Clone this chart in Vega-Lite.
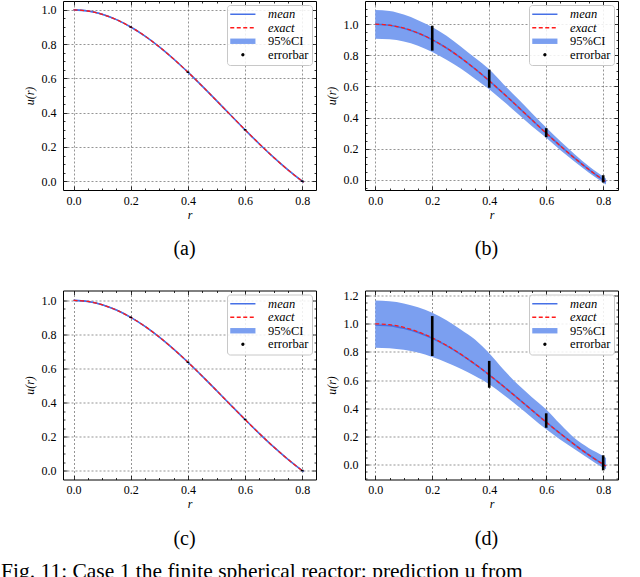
{
  "$schema": "https://vega.github.io/schema/vega-lite/v6.json",
  "padding": {"left": 1, "top": 0, "right": 0, "bottom": 0},
  "background": "white",
  "datasets": {
    "curves": [
      {"panel":"a","r":0,"mean":1.0,"exact":1.0,"lo":0.996,"hi":1.004},
      {"panel":"a","r":0.05,"mean":0.9936,"exact":0.9936,"lo":0.9896,"hi":0.9976},
      {"panel":"a","r":0.1,"mean":0.9745,"exact":0.9745,"lo":0.9705,"hi":0.9785},
      {"panel":"a","r":0.15,"mean":0.9432,"exact":0.9432,"lo":0.9392,"hi":0.9472},
      {"panel":"a","r":0.2,"mean":0.9003,"exact":0.9003,"lo":0.8963,"hi":0.9043},
      {"panel":"a","r":0.25,"mean":0.8469,"exact":0.8469,"lo":0.8429,"hi":0.8509},
      {"panel":"a","r":0.3,"mean":0.7842,"exact":0.7842,"lo":0.7802,"hi":0.7882},
      {"panel":"a","r":0.35,"mean":0.7136,"exact":0.7136,"lo":0.7096,"hi":0.7176},
      {"panel":"a","r":0.4,"mean":0.6366,"exact":0.6366,"lo":0.6326,"hi":0.6406},
      {"panel":"a","r":0.45,"mean":0.555,"exact":0.555,"lo":0.551,"hi":0.559},
      {"panel":"a","r":0.5,"mean":0.4705,"exact":0.4705,"lo":0.4665,"hi":0.4745},
      {"panel":"a","r":0.55,"mean":0.385,"exact":0.385,"lo":0.381,"hi":0.389},
      {"panel":"a","r":0.6,"mean":0.3001,"exact":0.3001,"lo":0.2961,"hi":0.3041},
      {"panel":"a","r":0.65,"mean":0.2177,"exact":0.2177,"lo":0.2137,"hi":0.2217},
      {"panel":"a","r":0.7,"mean":0.1392,"exact":0.1392,"lo":0.1352,"hi":0.1432},
      {"panel":"a","r":0.75,"mean":0.0662,"exact":0.0662,"lo":0.0622,"hi":0.0702},
      {"panel":"a","r":0.8,"mean":0.0,"exact":0.0,"lo":-0.004,"hi":0.004},
      {"panel":"a","r":0.805,"mean":-0.0062,"exact":-0.0062,"lo":-0.0102,"hi":-0.0022},

      {"panel":"b","r":0,"mean":1.0,"exact":1.0,"lo":0.907,"hi":1.091},
      {"panel":"b","r":0.05,"mean":0.9936,"exact":0.9936,"lo":0.903,"hi":1.085},
      {"panel":"b","r":0.1,"mean":0.9745,"exact":0.9745,"lo":0.889,"hi":1.062},
      {"panel":"b","r":0.15,"mean":0.9432,"exact":0.9432,"lo":0.862,"hi":1.026},
      {"panel":"b","r":0.2,"mean":0.9003,"exact":0.9003,"lo":0.822,"hi":0.982},
      {"panel":"b","r":0.25,"mean":0.8469,"exact":0.8469,"lo":0.772,"hi":0.925},
      {"panel":"b","r":0.3,"mean":0.7842,"exact":0.7842,"lo":0.715,"hi":0.857},
      {"panel":"b","r":0.35,"mean":0.7136,"exact":0.7136,"lo":0.65,"hi":0.784},
      {"panel":"b","r":0.4,"mean":0.6366,"exact":0.6366,"lo":0.582,"hi":0.71},
      {"panel":"b","r":0.45,"mean":0.555,"exact":0.555,"lo":0.505,"hi":0.615},
      {"panel":"b","r":0.5,"mean":0.4705,"exact":0.4705,"lo":0.425,"hi":0.522},
      {"panel":"b","r":0.55,"mean":0.385,"exact":0.385,"lo":0.345,"hi":0.428},
      {"panel":"b","r":0.6,"mean":0.3001,"exact":0.3001,"lo":0.27,"hi":0.337},
      {"panel":"b","r":0.65,"mean":0.2177,"exact":0.2177,"lo":0.19,"hi":0.248},
      {"panel":"b","r":0.7,"mean":0.1392,"exact":0.1392,"lo":0.117,"hi":0.165},
      {"panel":"b","r":0.75,"mean":0.0662,"exact":0.0662,"lo":0.046,"hi":0.088},
      {"panel":"b","r":0.8,"mean":0.0,"exact":0.0,"lo":-0.018,"hi":0.022},
      {"panel":"b","r":0.81,"mean":-0.0123,"exact":-0.0123,"lo":-0.03,"hi":0.008},

      {"panel":"c","r":0,"mean":1.0,"exact":1.0,"lo":0.996,"hi":1.004},
      {"panel":"c","r":0.05,"mean":0.9936,"exact":0.9936,"lo":0.9896,"hi":0.9976},
      {"panel":"c","r":0.1,"mean":0.9745,"exact":0.9745,"lo":0.9705,"hi":0.9785},
      {"panel":"c","r":0.15,"mean":0.9432,"exact":0.9432,"lo":0.9392,"hi":0.9472},
      {"panel":"c","r":0.2,"mean":0.9003,"exact":0.9003,"lo":0.8963,"hi":0.9043},
      {"panel":"c","r":0.25,"mean":0.8469,"exact":0.8469,"lo":0.8429,"hi":0.8509},
      {"panel":"c","r":0.3,"mean":0.7842,"exact":0.7842,"lo":0.7802,"hi":0.7882},
      {"panel":"c","r":0.35,"mean":0.7136,"exact":0.7136,"lo":0.7096,"hi":0.7176},
      {"panel":"c","r":0.4,"mean":0.6366,"exact":0.6366,"lo":0.6326,"hi":0.6406},
      {"panel":"c","r":0.45,"mean":0.555,"exact":0.555,"lo":0.551,"hi":0.559},
      {"panel":"c","r":0.5,"mean":0.4705,"exact":0.4705,"lo":0.4665,"hi":0.4745},
      {"panel":"c","r":0.55,"mean":0.385,"exact":0.385,"lo":0.381,"hi":0.389},
      {"panel":"c","r":0.6,"mean":0.3001,"exact":0.3001,"lo":0.2961,"hi":0.3041},
      {"panel":"c","r":0.65,"mean":0.2177,"exact":0.2177,"lo":0.2137,"hi":0.2217},
      {"panel":"c","r":0.7,"mean":0.1392,"exact":0.1392,"lo":0.1352,"hi":0.1432},
      {"panel":"c","r":0.75,"mean":0.0662,"exact":0.0662,"lo":0.0622,"hi":0.0702},
      {"panel":"c","r":0.8,"mean":0.0,"exact":0.0,"lo":-0.004,"hi":0.004},
      {"panel":"c","r":0.805,"mean":-0.0062,"exact":-0.0062,"lo":-0.0102,"hi":-0.0022},

      {"panel":"d","r":0,"mean":0.992,"exact":1.0,"lo":0.83,"hi":1.165},
      {"panel":"d","r":0.05,"mean":0.987,"exact":0.9936,"lo":0.826,"hi":1.16},
      {"panel":"d","r":0.1,"mean":0.968,"exact":0.9745,"lo":0.815,"hi":1.145},
      {"panel":"d","r":0.15,"mean":0.939,"exact":0.9432,"lo":0.795,"hi":1.118},
      {"panel":"d","r":0.2,"mean":0.897,"exact":0.9003,"lo":0.764,"hi":1.079},
      {"panel":"d","r":0.25,"mean":0.845,"exact":0.8469,"lo":0.725,"hi":1.025},
      {"panel":"d","r":0.3,"mean":0.783,"exact":0.7842,"lo":0.68,"hi":0.96},
      {"panel":"d","r":0.35,"mean":0.713,"exact":0.7136,"lo":0.628,"hi":0.888},
      {"panel":"d","r":0.4,"mean":0.637,"exact":0.6366,"lo":0.57,"hi":0.79},
      {"panel":"d","r":0.45,"mean":0.555,"exact":0.555,"lo":0.495,"hi":0.675},
      {"panel":"d","r":0.5,"mean":0.4705,"exact":0.4705,"lo":0.415,"hi":0.569},
      {"panel":"d","r":0.55,"mean":0.385,"exact":0.385,"lo":0.332,"hi":0.478},
      {"panel":"d","r":0.6,"mean":0.3001,"exact":0.3001,"lo":0.249,"hi":0.391},
      {"panel":"d","r":0.65,"mean":0.2177,"exact":0.2177,"lo":0.175,"hi":0.285},
      {"panel":"d","r":0.7,"mean":0.1392,"exact":0.1392,"lo":0.107,"hi":0.185},
      {"panel":"d","r":0.75,"mean":0.0662,"exact":0.0662,"lo":0.04,"hi":0.115},
      {"panel":"d","r":0.8,"mean":0.0,"exact":0.0,"lo":-0.024,"hi":0.059},
      {"panel":"d","r":0.81,"mean":-0.0123,"exact":-0.0123,"lo":-0.035,"hi":0.045}
    ],
    "bars": [
      {"panel":"a","r":0.2,"lo":0.896,"hi":0.904},
      {"panel":"a","r":0.4,"lo":0.632,"hi":0.641},
      {"panel":"a","r":0.6,"lo":0.296,"hi":0.305},
      {"panel":"a","r":0.8,"lo":-0.004,"hi":0.005},
      {"panel":"b","r":0.2,"lo":0.83,"hi":0.99},
      {"panel":"b","r":0.4,"lo":0.592,"hi":0.708},
      {"panel":"b","r":0.6,"lo":0.274,"hi":0.332},
      {"panel":"b","r":0.8,"lo":-0.017,"hi":0.03},
      {"panel":"c","r":0.2,"lo":0.896,"hi":0.904},
      {"panel":"c","r":0.4,"lo":0.632,"hi":0.641},
      {"panel":"c","r":0.6,"lo":0.296,"hi":0.305},
      {"panel":"c","r":0.8,"lo":-0.004,"hi":0.005},
      {"panel":"d","r":0.2,"lo":0.771,"hi":1.055},
      {"panel":"d","r":0.4,"lo":0.545,"hi":0.736},
      {"panel":"d","r":0.6,"lo":0.26,"hi":0.363},
      {"panel":"d","r":0.8,"lo":-0.043,"hi":0.064}
    ]
  },
  "title": {"text": "Fig. 11: Case 1 the finite spherical reactor: prediction u from", "orient": "bottom", "anchor": "start", "frame": "group", "dx": -62, "offset": 12, "fontSize": 21.5, "font": "Liberation Serif", "fontWeight": "normal", "color": "black"},
  "columns": 2,
  "spacing": {"row": 100.5, "column": 49},
  "bounds": "flush",
  "resolve": {"scale": {"color": "independent"}, "legend": {"color": "independent"}},
  "concat": [
    {
      "width": 253, "height": 189,
      "title": {"text": "(a)", "orient": "bottom", "offset": 19, "dx": -5},
      "resolve": {"axis": {"x": "independent", "y": "independent"}},
      "layer": [
        {
          "data": {"name": "curves"}, "transform": [{"filter": "datum.panel == 'a'"}],
          "mark": {"type": "area", "interpolate": "monotone"},
          "encoding": {
            "x": {"field": "r", "type": "quantitative", "scale": {"domain": [-0.037, 0.848], "nice": false, "zero": false},
                  "axis": {"orient": "bottom", "values": [0,0.2,0.4,0.6,0.8], "format": ".1f", "grid": true, "tickSize": -4, "labelPadding": 9, "labelOverlap": false, "labelFlush": false, "title": "r", "titlePadding": 3}},
            "y": {"field": "lo", "type": "quantitative", "scale": {"domain": [-0.051, 1.052], "nice": false, "zero": false},
                  "axis": {"orient": "left", "values": [0,0.2,0.4,0.6,0.8,1.0], "format": ".1f", "grid": true, "tickSize": -4, "labelPadding": 11, "labelOverlap": false, "labelFlush": false, "title": "u(r)", "titlePadding": 5}},
            "y2": {"field": "hi"},
            "color": {"datum": "95%CI", "scale": {"domain": ["mean","exact","95%CI","errorbar"], "range": ["#4670e6","#ff1a1a","#7b9ff0","#000000"]},
              "legend": {"title": null, "orient": "top-right", "offset": 4, "padding": 3, "strokeColor": "#c8c8c8", "fillColor": "rgba(255,255,255,0.85)", "cornerRadius": 3, "labelFont": "Liberation Serif", "labelFontSize": 12.5, "labelColor": "black",
                "labelFontStyle": {"expr": "datum.value == 'mean' || datum.value == 'exact' ? 'italic' : 'normal'"},
                "symbolSize": 144, "symbolOffset": 6.6, "labelOffset": 19, "rowPadding": 0.5, "symbolOpacity": 1,
                "symbolType": {"expr": "datum.value == '95%CI' ? 'M-2.1,-0.45H2.1V0.45H-2.1Z' : datum.value == 'errorbar' ? 'M-0.15,0A0.15,0.15,0,1,0,0.15,0A0.15,0.15,0,1,0,-0.15,0' : 'M-2.1,0H2.1'"},
                "symbolDash": {"expr": "datum.value == 'exact' ? [4,2.5] : [1,0]"},
                "symbolStrokeWidth": {"expr": "datum.value == '95%CI' ? 0 : 1.5"},
                "symbolFillColor": {"expr": "datum.value == '95%CI' ? '#7b9ff0' : datum.value == 'errorbar' ? 'black' : 'transparent'"},
                "symbolStrokeColor": {"expr": "datum.value == 'mean' ? '#4670e6' : datum.value == 'exact' ? '#ff1a1a' : datum.value == 'errorbar' ? 'black' : 'transparent'"}}}
          }
        },
        {
          "data": {"name": "curves"}, "transform": [{"filter": "datum.panel == 'a'"}],
          "mark": {"type": "line", "interpolate": "monotone", "strokeWidth": 1.6},
          "encoding": {
            "x": {"field": "r", "type": "quantitative", "axis": {"orient": "top", "values": [0,0.2,0.4,0.6,0.8], "labels": false, "grid": false, "tickSize": -4, "title": null}},
            "y": {"field": "mean", "type": "quantitative", "axis": {"orient": "right", "values": [0,0.2,0.4,0.6,0.8,1.0], "labels": false, "grid": false, "tickSize": -4, "title": null}},
            "color": {"datum": "mean"}
          }
        },
        {
          "data": {"name": "curves"}, "transform": [{"filter": "datum.panel == 'a'"}],
          "mark": {"type": "line", "interpolate": "monotone", "strokeWidth": 1.3, "strokeDash": [4, 2.5]},
          "encoding": {
            "x": {"field": "r", "type": "quantitative", "axis": {"orient": "bottom", "values": [0.05,0.1,0.15,0.25,0.3,0.35,0.45,0.5,0.55,0.65,0.7,0.75], "labels": false, "grid": false, "tickSize": -2, "title": null}},
            "y": {"field": "exact", "type": "quantitative", "axis": {"orient": "left", "values": [0.05,0.1,0.15,0.25,0.3,0.35,0.45,0.5,0.55,0.65,0.7,0.75,0.85,0.9,0.95], "labels": false, "grid": false, "tickSize": -2, "title": null}},
            "color": {"datum": "exact"}
          }
        },
        {
          "data": {"name": "bars"}, "transform": [{"filter": "datum.panel == 'a'"}],
          "mark": {"type": "rule", "strokeWidth": 2.6},
          "encoding": {
            "x": {"field": "r", "type": "quantitative", "axis": {"orient": "top", "values": [0.05,0.1,0.15,0.25,0.3,0.35,0.45,0.5,0.55,0.65,0.7,0.75], "labels": false, "grid": false, "tickSize": -2, "title": null}},
            "y": {"field": "lo", "type": "quantitative", "axis": {"orient": "right", "values": [0.05,0.1,0.15,0.25,0.3,0.35,0.45,0.5,0.55,0.65,0.7,0.75,0.85,0.9,0.95], "labels": false, "grid": false, "tickSize": -2, "title": null}},
            "y2": {"field": "hi"},
            "color": {"datum": "errorbar"}
          }
        }
      ]
    },
    {
      "width": 253, "height": 189,
      "title": {"text": "(b)", "orient": "bottom", "offset": 19, "dx": -5},
      "resolve": {"axis": {"x": "independent", "y": "independent"}},
      "layer": [
        {
          "data": {"name": "curves"}, "transform": [{"filter": "datum.panel == 'b'"}],
          "mark": {"type": "area", "interpolate": "monotone"},
          "encoding": {
            "x": {"field": "r", "type": "quantitative", "scale": {"domain": [-0.036, 0.852], "nice": false, "zero": false},
                  "axis": {"orient": "bottom", "values": [0,0.2,0.4,0.6,0.8], "format": ".1f", "grid": true, "tickSize": -4, "labelPadding": 9, "labelOverlap": false, "labelFlush": false, "title": "r", "titlePadding": 3}},
            "y": {"field": "lo", "type": "quantitative", "scale": {"domain": [-0.065, 1.149], "nice": false, "zero": false},
                  "axis": {"orient": "left", "values": [0,0.2,0.4,0.6,0.8,1.0], "format": ".1f", "grid": true, "tickSize": -4, "labelPadding": 11, "labelOverlap": false, "labelFlush": false, "title": "u(r)", "titlePadding": 5}},
            "y2": {"field": "hi"},
            "color": {"datum": "95%CI", "scale": {"domain": ["mean","exact","95%CI","errorbar"], "range": ["#4670e6","#ff1a1a","#7b9ff0","#000000"]},
              "legend": {"title": null, "orient": "top-right", "offset": 4, "padding": 3, "strokeColor": "#c8c8c8", "fillColor": "rgba(255,255,255,0.85)", "cornerRadius": 3, "labelFont": "Liberation Serif", "labelFontSize": 12.5, "labelColor": "black",
                "labelFontStyle": {"expr": "datum.value == 'mean' || datum.value == 'exact' ? 'italic' : 'normal'"},
                "symbolSize": 144, "symbolOffset": 6.6, "labelOffset": 19, "rowPadding": 0.5, "symbolOpacity": 1,
                "symbolType": {"expr": "datum.value == '95%CI' ? 'M-2.1,-0.45H2.1V0.45H-2.1Z' : datum.value == 'errorbar' ? 'M-0.15,0A0.15,0.15,0,1,0,0.15,0A0.15,0.15,0,1,0,-0.15,0' : 'M-2.1,0H2.1'"},
                "symbolDash": {"expr": "datum.value == 'exact' ? [4,2.5] : [1,0]"},
                "symbolStrokeWidth": {"expr": "datum.value == '95%CI' ? 0 : 1.5"},
                "symbolFillColor": {"expr": "datum.value == '95%CI' ? '#7b9ff0' : datum.value == 'errorbar' ? 'black' : 'transparent'"},
                "symbolStrokeColor": {"expr": "datum.value == 'mean' ? '#4670e6' : datum.value == 'exact' ? '#ff1a1a' : datum.value == 'errorbar' ? 'black' : 'transparent'"}}}
          }
        },
        {
          "data": {"name": "curves"}, "transform": [{"filter": "datum.panel == 'b'"}],
          "mark": {"type": "line", "interpolate": "monotone", "strokeWidth": 1.6},
          "encoding": {
            "x": {"field": "r", "type": "quantitative", "axis": {"orient": "top", "values": [0,0.2,0.4,0.6,0.8], "labels": false, "grid": false, "tickSize": -4, "title": null}},
            "y": {"field": "mean", "type": "quantitative", "axis": {"orient": "right", "values": [0,0.2,0.4,0.6,0.8,1.0], "labels": false, "grid": false, "tickSize": -4, "title": null}},
            "color": {"datum": "mean"}
          }
        },
        {
          "data": {"name": "curves"}, "transform": [{"filter": "datum.panel == 'b'"}],
          "mark": {"type": "line", "interpolate": "monotone", "strokeWidth": 1.3, "strokeDash": [4, 2.5]},
          "encoding": {
            "x": {"field": "r", "type": "quantitative", "axis": {"orient": "bottom", "values": [0.05,0.1,0.15,0.25,0.3,0.35,0.45,0.5,0.55,0.65,0.7,0.75], "labels": false, "grid": false, "tickSize": -2, "title": null}},
            "y": {"field": "exact", "type": "quantitative", "axis": {"orient": "left", "values": [-0.05,0.05,0.1,0.15,0.25,0.3,0.35,0.45,0.5,0.55,0.65,0.7,0.75,0.85,0.9,0.95,1.05,1.1], "labels": false, "grid": false, "tickSize": -2, "title": null}},
            "color": {"datum": "exact"}
          }
        },
        {
          "data": {"name": "bars"}, "transform": [{"filter": "datum.panel == 'b'"}],
          "mark": {"type": "rule", "strokeWidth": 2.6},
          "encoding": {
            "x": {"field": "r", "type": "quantitative", "axis": {"orient": "top", "values": [0.05,0.1,0.15,0.25,0.3,0.35,0.45,0.5,0.55,0.65,0.7,0.75], "labels": false, "grid": false, "tickSize": -2, "title": null}},
            "y": {"field": "lo", "type": "quantitative", "axis": {"orient": "right", "values": [-0.05,0.05,0.1,0.15,0.25,0.3,0.35,0.45,0.5,0.55,0.65,0.7,0.75,0.85,0.9,0.95,1.05,1.1], "labels": false, "grid": false, "tickSize": -2, "title": null}},
            "y2": {"field": "hi"},
            "color": {"datum": "errorbar"}
          }
        }
      ]
    },
    {
      "width": 253, "height": 189,
      "title": {"text": "(c)", "orient": "bottom", "offset": 19, "dx": -5},
      "resolve": {"axis": {"x": "independent", "y": "independent"}},
      "layer": [
        {
          "data": {"name": "curves"}, "transform": [{"filter": "datum.panel == 'c'"}],
          "mark": {"type": "area", "interpolate": "monotone"},
          "encoding": {
            "x": {"field": "r", "type": "quantitative", "scale": {"domain": [-0.037, 0.848], "nice": false, "zero": false},
                  "axis": {"orient": "bottom", "values": [0,0.2,0.4,0.6,0.8], "format": ".1f", "grid": true, "tickSize": -4, "labelPadding": 9, "labelOverlap": false, "labelFlush": false, "title": "r", "titlePadding": 3}},
            "y": {"field": "lo", "type": "quantitative", "scale": {"domain": [-0.052, 1.058], "nice": false, "zero": false},
                  "axis": {"orient": "left", "values": [0,0.2,0.4,0.6,0.8,1.0], "format": ".1f", "grid": true, "tickSize": -4, "labelPadding": 11, "labelOverlap": false, "labelFlush": false, "title": "u(r)", "titlePadding": 5}},
            "y2": {"field": "hi"},
            "color": {"datum": "95%CI", "scale": {"domain": ["mean","exact","95%CI","errorbar"], "range": ["#4670e6","#ff1a1a","#7b9ff0","#000000"]},
              "legend": {"title": null, "orient": "top-right", "offset": 4, "padding": 3, "strokeColor": "#c8c8c8", "fillColor": "rgba(255,255,255,0.85)", "cornerRadius": 3, "labelFont": "Liberation Serif", "labelFontSize": 12.5, "labelColor": "black",
                "labelFontStyle": {"expr": "datum.value == 'mean' || datum.value == 'exact' ? 'italic' : 'normal'"},
                "symbolSize": 144, "symbolOffset": 6.6, "labelOffset": 19, "rowPadding": 0.5, "symbolOpacity": 1,
                "symbolType": {"expr": "datum.value == '95%CI' ? 'M-2.1,-0.45H2.1V0.45H-2.1Z' : datum.value == 'errorbar' ? 'M-0.15,0A0.15,0.15,0,1,0,0.15,0A0.15,0.15,0,1,0,-0.15,0' : 'M-2.1,0H2.1'"},
                "symbolDash": {"expr": "datum.value == 'exact' ? [4,2.5] : [1,0]"},
                "symbolStrokeWidth": {"expr": "datum.value == '95%CI' ? 0 : 1.5"},
                "symbolFillColor": {"expr": "datum.value == '95%CI' ? '#7b9ff0' : datum.value == 'errorbar' ? 'black' : 'transparent'"},
                "symbolStrokeColor": {"expr": "datum.value == 'mean' ? '#4670e6' : datum.value == 'exact' ? '#ff1a1a' : datum.value == 'errorbar' ? 'black' : 'transparent'"}}}
          }
        },
        {
          "data": {"name": "curves"}, "transform": [{"filter": "datum.panel == 'c'"}],
          "mark": {"type": "line", "interpolate": "monotone", "strokeWidth": 1.6},
          "encoding": {
            "x": {"field": "r", "type": "quantitative", "axis": {"orient": "top", "values": [0,0.2,0.4,0.6,0.8], "labels": false, "grid": false, "tickSize": -4, "title": null}},
            "y": {"field": "mean", "type": "quantitative", "axis": {"orient": "right", "values": [0,0.2,0.4,0.6,0.8,1.0], "labels": false, "grid": false, "tickSize": -4, "title": null}},
            "color": {"datum": "mean"}
          }
        },
        {
          "data": {"name": "curves"}, "transform": [{"filter": "datum.panel == 'c'"}],
          "mark": {"type": "line", "interpolate": "monotone", "strokeWidth": 1.3, "strokeDash": [4, 2.5]},
          "encoding": {
            "x": {"field": "r", "type": "quantitative", "axis": {"orient": "bottom", "values": [0.05,0.1,0.15,0.25,0.3,0.35,0.45,0.5,0.55,0.65,0.7,0.75], "labels": false, "grid": false, "tickSize": -2, "title": null}},
            "y": {"field": "exact", "type": "quantitative", "axis": {"orient": "left", "values": [0.05,0.1,0.15,0.25,0.3,0.35,0.45,0.5,0.55,0.65,0.7,0.75,0.85,0.9,0.95], "labels": false, "grid": false, "tickSize": -2, "title": null}},
            "color": {"datum": "exact"}
          }
        },
        {
          "data": {"name": "bars"}, "transform": [{"filter": "datum.panel == 'c'"}],
          "mark": {"type": "rule", "strokeWidth": 2.6},
          "encoding": {
            "x": {"field": "r", "type": "quantitative", "axis": {"orient": "top", "values": [0.05,0.1,0.15,0.25,0.3,0.35,0.45,0.5,0.55,0.65,0.7,0.75], "labels": false, "grid": false, "tickSize": -2, "title": null}},
            "y": {"field": "lo", "type": "quantitative", "axis": {"orient": "right", "values": [0.05,0.1,0.15,0.25,0.3,0.35,0.45,0.5,0.55,0.65,0.7,0.75,0.85,0.9,0.95], "labels": false, "grid": false, "tickSize": -2, "title": null}},
            "y2": {"field": "hi"},
            "color": {"datum": "errorbar"}
          }
        }
      ]
    },
    {
      "width": 253, "height": 189,
      "title": {"text": "(d)", "orient": "bottom", "offset": 19, "dx": -5},
      "resolve": {"axis": {"x": "independent", "y": "independent"}},
      "layer": [
        {
          "data": {"name": "curves"}, "transform": [{"filter": "datum.panel == 'd'"}],
          "mark": {"type": "area", "interpolate": "monotone"},
          "encoding": {
            "x": {"field": "r", "type": "quantitative", "scale": {"domain": [-0.036, 0.852], "nice": false, "zero": false},
                  "axis": {"orient": "bottom", "values": [0,0.2,0.4,0.6,0.8], "format": ".1f", "grid": true, "tickSize": -4, "labelPadding": 9, "labelOverlap": false, "labelFlush": false, "title": "r", "titlePadding": 3}},
            "y": {"field": "lo", "type": "quantitative", "scale": {"domain": [-0.108, 1.237], "nice": false, "zero": false},
                  "axis": {"orient": "left", "values": [0,0.2,0.4,0.6,0.8,1.0,1.2], "format": ".1f", "grid": true, "tickSize": -4, "labelPadding": 11, "labelOverlap": false, "labelFlush": false, "title": "u(r)", "titlePadding": 5}},
            "y2": {"field": "hi"},
            "color": {"datum": "95%CI", "scale": {"domain": ["mean","exact","95%CI","errorbar"], "range": ["#4670e6","#ff1a1a","#7b9ff0","#000000"]},
              "legend": {"title": null, "orient": "top-right", "offset": 4, "padding": 3, "strokeColor": "#c8c8c8", "fillColor": "rgba(255,255,255,0.85)", "cornerRadius": 3, "labelFont": "Liberation Serif", "labelFontSize": 12.5, "labelColor": "black",
                "labelFontStyle": {"expr": "datum.value == 'mean' || datum.value == 'exact' ? 'italic' : 'normal'"},
                "symbolSize": 144, "symbolOffset": 6.6, "labelOffset": 19, "rowPadding": 0.5, "symbolOpacity": 1,
                "symbolType": {"expr": "datum.value == '95%CI' ? 'M-2.1,-0.45H2.1V0.45H-2.1Z' : datum.value == 'errorbar' ? 'M-0.15,0A0.15,0.15,0,1,0,0.15,0A0.15,0.15,0,1,0,-0.15,0' : 'M-2.1,0H2.1'"},
                "symbolDash": {"expr": "datum.value == 'exact' ? [4,2.5] : [1,0]"},
                "symbolStrokeWidth": {"expr": "datum.value == '95%CI' ? 0 : 1.5"},
                "symbolFillColor": {"expr": "datum.value == '95%CI' ? '#7b9ff0' : datum.value == 'errorbar' ? 'black' : 'transparent'"},
                "symbolStrokeColor": {"expr": "datum.value == 'mean' ? '#4670e6' : datum.value == 'exact' ? '#ff1a1a' : datum.value == 'errorbar' ? 'black' : 'transparent'"}}}
          }
        },
        {
          "data": {"name": "curves"}, "transform": [{"filter": "datum.panel == 'd'"}],
          "mark": {"type": "line", "interpolate": "monotone", "strokeWidth": 1.6},
          "encoding": {
            "x": {"field": "r", "type": "quantitative", "axis": {"orient": "top", "values": [0,0.2,0.4,0.6,0.8], "labels": false, "grid": false, "tickSize": -4, "title": null}},
            "y": {"field": "mean", "type": "quantitative", "axis": {"orient": "right", "values": [0,0.2,0.4,0.6,0.8,1.0,1.2], "labels": false, "grid": false, "tickSize": -4, "title": null}},
            "color": {"datum": "mean"}
          }
        },
        {
          "data": {"name": "curves"}, "transform": [{"filter": "datum.panel == 'd'"}],
          "mark": {"type": "line", "interpolate": "monotone", "strokeWidth": 1.3, "strokeDash": [4, 2.5]},
          "encoding": {
            "x": {"field": "r", "type": "quantitative", "axis": {"orient": "bottom", "values": [0.05,0.1,0.15,0.25,0.3,0.35,0.45,0.5,0.55,0.65,0.7,0.75], "labels": false, "grid": false, "tickSize": -2, "title": null}},
            "y": {"field": "exact", "type": "quantitative", "axis": {"orient": "left", "values": [-0.1,-0.05,0.05,0.1,0.15,0.25,0.3,0.35,0.45,0.5,0.55,0.65,0.7,0.75,0.85,0.9,0.95,1.05,1.1,1.15], "labels": false, "grid": false, "tickSize": -2, "title": null}},
            "color": {"datum": "exact"}
          }
        },
        {
          "data": {"name": "bars"}, "transform": [{"filter": "datum.panel == 'd'"}],
          "mark": {"type": "rule", "strokeWidth": 2.6},
          "encoding": {
            "x": {"field": "r", "type": "quantitative", "axis": {"orient": "top", "values": [0.05,0.1,0.15,0.25,0.3,0.35,0.45,0.5,0.55,0.65,0.7,0.75], "labels": false, "grid": false, "tickSize": -2, "title": null}},
            "y": {"field": "lo", "type": "quantitative", "axis": {"orient": "right", "values": [-0.1,-0.05,0.05,0.1,0.15,0.25,0.3,0.35,0.45,0.5,0.55,0.65,0.7,0.75,0.85,0.9,0.95,1.05,1.1,1.15], "labels": false, "grid": false, "tickSize": -2, "title": null}},
            "y2": {"field": "hi"},
            "color": {"datum": "errorbar"}
          }
        }
      ]
    }
  ],
  "config": {
    "font": "Liberation Serif",
    "view": {"stroke": "black", "strokeWidth": 1},
    "axis": {"labelFont": "Liberation Serif", "labelFontSize": 12, "labelColor": "black", "titleFont": "Liberation Serif", "titleFontSize": 12, "titleFontWeight": "normal", "titleFontStyle": "italic", "titleColor": "black", "domain": false, "tickColor": "black", "tickWidth": 0.8, "gridColor": "#4d4d4d", "gridDash": [2, 2], "gridWidth": 0.6, "gridOpacity": 1},
    "title": {"font": "Liberation Serif", "fontSize": 20, "fontWeight": "normal", "color": "black"}
  }
}
